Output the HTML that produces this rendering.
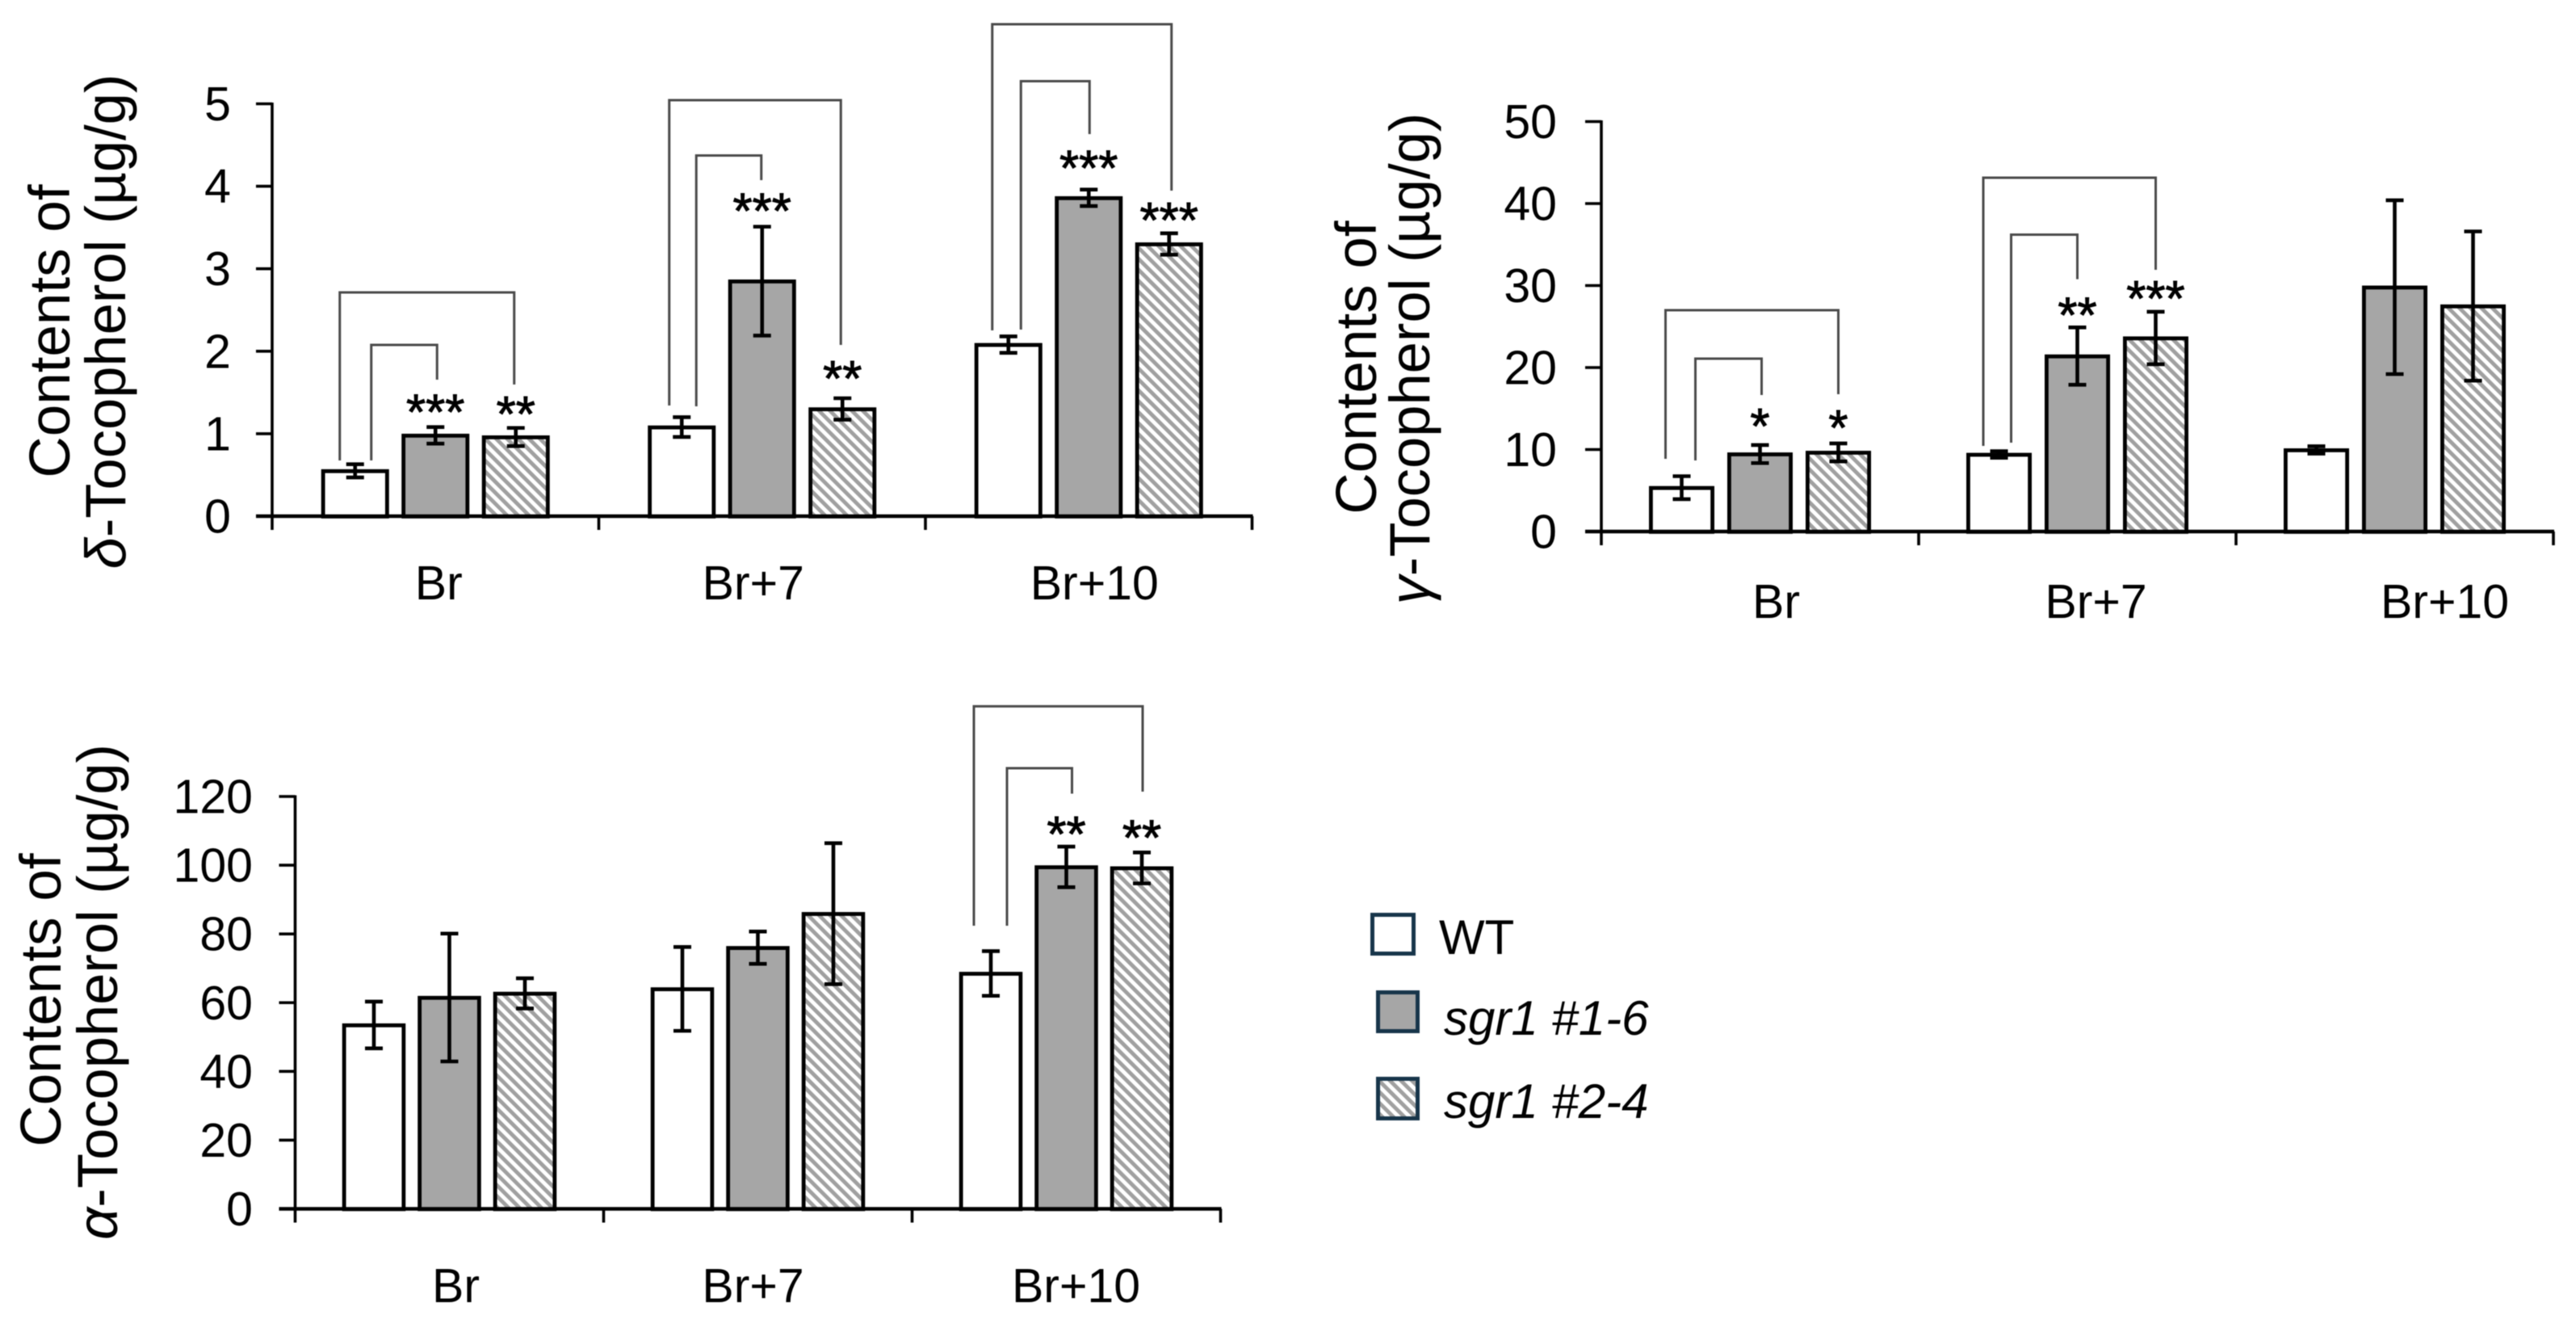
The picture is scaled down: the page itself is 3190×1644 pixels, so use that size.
<!DOCTYPE html>
<html lang="en">
<head>
<meta charset="utf-8">
<title>Tocopherol contents</title>
<style>
  html, body { margin: 0; padding: 0; background: #fff; }
  body { width: 3190px; height: 1644px; overflow: hidden; }
  svg { display: block; font-family: "Liberation Sans", Arial, sans-serif; filter: blur(0.6px); }
</style>
</head>
<body>
<svg id="figure" width="3190" height="1644" viewBox="0 0 3190 1644" xmlns="http://www.w3.org/2000/svg">
  <defs>
    <pattern id="hatch" patternUnits="userSpaceOnUse" width="9.6" height="9.6" patternTransform="rotate(-45)">
      <rect width="9.6" height="9.6" fill="#fff"/>
      <rect width="4.8" height="9.6" fill="#a0a0a0"/>
    </pattern>
  </defs>
  <rect width="3190" height="1644" fill="#fff"/>
  <g id="charts"></g>
  <g id="legend">
    <g>
      <rect x="1699.5" y="1132.5" width="51" height="48" fill="#fff" stroke="#17354a" stroke-width="5"/>
      <text x="1782" y="1181" font-size="60" fill="#000">WT</text>
    </g>
    <g>
      <rect x="1706.5" y="1228.5" width="49" height="48" fill="#a6a6a6" stroke="#17354a" stroke-width="5"/>
      <text x="1788" y="1281" font-size="60" font-style="italic" fill="#000">sgr1 #1-6</text>
    </g>
    <g>
      <rect x="1706.5" y="1335.5" width="49" height="49" fill="url(#hatch)" stroke="#17354a" stroke-width="5"/>
      <text x="1788" y="1384" font-size="60" font-style="italic" fill="#000">sgr1 #2-4</text>
    </g>
  </g>
</svg>
<script>
// ---------- shared data ----------
const categories = ['Br', 'Br+7', 'Br+10'];
const seriesKeys = ['wt', 'sgr1-1-6', 'sgr1-2-4'];

// ---------- delta-tocopherol ----------
const deltaTicks = ['0', '1', '2', '3', '4', '5'];
const deltaWT = [0.55, 1.08, 2.08];
const deltaLine16 = [0.98, 2.85, 3.86];
const deltaLine24 = [0.96, 1.30, 3.30];
const deltaErrWT = [0.08, 0.12, 0.10];
const deltaErrLine16 = [0.10, 0.66, 0.10];
const deltaErrLine24 = [0.11, 0.13, 0.13];
const deltaStarsLine16 = ['***', '***', '***'];
const deltaStarsLine24 = ['**', '**', '***'];

// ---------- gamma-tocopherol ----------
const gammaTicks = ['0', '10', '20', '30', '40', '50'];
const gammaWT = [5.35, 9.4, 9.95];
const gammaLine16 = [9.45, 21.4, 29.8];
const gammaLine24 = [9.65, 23.6, 27.5];
const gammaErrWT = [1.4, 0.4, 0.45];
const gammaErrLine16 = [1.1, 3.5, 10.6];
const gammaErrLine24 = [1.1, 3.2, 9.1];
const gammaStarsLine16 = ['*', '**', ''];
const gammaStarsLine24 = ['*', '***', ''];

// ---------- alpha-tocopherol ----------
const alphaTicks = ['0', '20', '40', '60', '80', '100', '120'];
const alphaWT = [53.5, 64, 68.5];
const alphaLine16 = [61.5, 76, 99.5];
const alphaLine24 = [62.7, 85.9, 99.2];
const alphaErrWT = [6.8, 12.2, 6.5];
const alphaErrLine16 = [18.6, 4.7, 5.9];
const alphaErrLine24 = [4.4, 20.5, 4.5];
const alphaStarsLine16 = ['', '', '**'];
const alphaStarsLine24 = ['', '', '**'];

const NS = 'http://www.w3.org/2000/svg';
const root = document.getElementById('charts');

function make(tag, parent, attrs) {
  const el = document.createElementNS(NS, tag);
  for (const k in attrs) el.setAttribute(k, attrs[k]);
  parent.appendChild(el);
  return el;
}

function drawChart(cfg) {
  const chart = make('g', root, {});
  
  

  const maxVal = Number(cfg.ticks[cfg.ticks.length - 1]);
  const yScale = v => cfg.y0 - (v / maxVal) * (cfg.y0 - cfg.yTop);
  const groupCenter = g => cfg.axisX + cfg.groupW * (g + 0.5);
  const barCenter = (g, s) => groupCenter(g) + (s - 1) * cfg.pitch;
  const fills = ['#fff', '#a6a6a6', 'url(#hatch)'];

  // bars
  cfg.series.forEach((vals, s) => {
    vals.forEach((v, g) => {
      const sw = 4.8;
      const rect = make('rect', chart, {
        x: barCenter(g, s) - cfg.barW / 2 + sw / 2,
        y: yScale(v) + sw / 2 - 2,
        width: cfg.barW - sw,
        height: cfg.y0 - yScale(v),
        fill: fills[s], stroke: '#000', 'stroke-width': sw
      });
      
      
    });
  });

  // error bars
  cfg.errors.forEach((errs, s) => {
    errs.forEach((e, g) => {
      const cx = barCenter(g, s);
      const hi = yScale(cfg.series[s][g] + e);
      const lo = yScale(cfg.series[s][g] - e);
      const eb = make('path', chart, {
        d: 'M' + cx + ' ' + hi + 'V' + lo +
           'M' + (cx - 11) + ' ' + hi + 'H' + (cx + 11) +
           'M' + (cx - 11) + ' ' + lo + 'H' + (cx + 11),
        fill: 'none', stroke: '#000', 'stroke-width': 4.6
      });
      
      

      // significance stars
      const label = s > 0 ? cfg.stars[s - 1][g] : '';
      if (label) {
        const gap = cfg.starGap[s - 1][g];
        const fs = 62;
        const st = make('text', chart, {
          x: cx, y: hi - gap + fs * 0.5,
          'font-size': fs, 'text-anchor': 'middle', fill: '#000',
          stroke: '#000', 'stroke-width': 1
        });
        st.textContent = label;
        
        
      }
    });
  });

  // comparison brackets
  cfg.brackets.forEach((b, i) => {
    const left = barCenter(b.group, 0) + b.leftDx;
    const right = barCenter(b.group, b.target) + b.rightDx;
    const br = make('path', chart, {
      d: 'M' + left + ' ' + b.leftEnd + 'V' + b.top + 'H' + right + 'V' + b.rightEnd,
      fill: 'none', stroke: '#4a4a4a', 'stroke-width': 3
    });
    
    
  });

  // y axis
  const yAxis = make('line', chart, {
    x1: cfg.axisX, x2: cfg.axisX, y1: cfg.yTop - 1.5, y2: cfg.y0 + 17,
    stroke: '#000', 'stroke-width': 3.6
  });
  
  

  cfg.ticks.forEach(t => {
    const y = yScale(Number(t));
    const tick = make('line', chart, {
      x1: cfg.axisX - 20, x2: cfg.axisX, y1: y, y2: y, stroke: '#000', 'stroke-width': 3.6
    });
    
    
    const lab = make('text', chart, {
      x: cfg.tickLabelX, y: y + 20.5, 'font-size': 59, 'text-anchor': 'end', fill: '#000'
    });
    lab.textContent = t;
    
    
  });

  // x axis
  const xAxis = make('line', chart, {
    x1: cfg.axisX - 20, x2: cfg.axisX + cfg.groupW * categories.length + 1,
    y1: cfg.y0, y2: cfg.y0, stroke: '#000', 'stroke-width': 4.6
  });
  
  

  categories.forEach((c, g) => {
    const x = cfg.axisX + cfg.groupW * (g + 1);
    const tick = make('line', chart, {
      x1: x, x2: x, y1: cfg.y0, y2: cfg.y0 + 17, stroke: '#000', 'stroke-width': 3.6
    });
    
    
    const lab = make('text', chart, {
      x: groupCenter(g) + cfg.catDx[g], y: cfg.catBaseline,
      'font-size': 59, 'text-anchor': 'middle', fill: '#000'
    });
    lab.textContent = c;
    
    
  });

  // y title (two rotated lines)
  const t1 = make('text', chart, {
    transform: 'translate(' + cfg.title1X + ' ' + cfg.title1Y + ') rotate(-90)',
    'font-size': 71, 'text-anchor': 'middle', fill: '#000'
  });
  t1.textContent = 'Contents of';
  
  

  const t2 = make('text', chart, {
    transform: 'translate(' + cfg.title2X + ' ' + cfg.title2Y + ') rotate(-90)',
    'font-size': 70.5, 'text-anchor': 'middle', fill: '#000'
  });
  const sym = make('tspan', t2, { 'font-style': 'italic' });
  sym.textContent = cfg.symbol;
  const rest = make('tspan', t2, {});
  rest.textContent = '-Tocopherol (\u00b5g/g)';
  
  
}

drawChart({
  name: 'delta-tocopherol', symbol: '\u03b4', ticks: deltaTicks,
  series: [deltaWT, deltaLine16, deltaLine24],
  errors: [deltaErrWT, deltaErrLine16, deltaErrLine24],
  stars: [deltaStarsLine16, deltaStarsLine24],
  starGap: [[28, 29, 36], [27, 34, 26]],
  axisX: 337, y0: 639, yTop: 128.5, groupW: 404.5, pitch: 99.5, barW: 84,
  tickLabelX: 286, catDx: [4, -11, 7], catBaseline: 742,
  title1X: 86, title1Y: 410, title2X: 155, title2Y: 398,
  brackets: [
    { group: 0, target: 2, top: 362, leftEnd: 570, rightEnd: 476, leftDx: -19, rightDx: -2 },
    { group: 0, target: 1, top: 427, leftEnd: 570, rightEnd: 470, leftDx: 20, rightDx: 2 },
    { group: 1, target: 2, top: 124, leftEnd: 502, rightEnd: 427, leftDx: -15.5, rightDx: -2 },
    { group: 1, target: 1, top: 192.5, leftEnd: 503, rightEnd: 223, leftDx: 18, rightDx: -1 },
    { group: 2, target: 2, top: 30, leftEnd: 409, rightEnd: 236, leftDx: -20, rightDx: 3 },
    { group: 2, target: 1, top: 100.5, leftEnd: 408, rightEnd: 166, leftDx: 15.5, rightDx: 1 }
  ]
});

drawChart({
  name: 'gamma-tocopherol', symbol: '\u03b3', ticks: gammaTicks,
  series: [gammaWT, gammaLine16, gammaLine24],
  errors: [gammaErrWT, gammaErrLine16, gammaErrLine24],
  stars: [gammaStarsLine16, gammaStarsLine24],
  starGap: [[33, 25, 0], [29, 26, 0]],
  axisX: 1983, y0: 658, yTop: 150.5, groupW: 393, pitch: 97, barW: 81,
  tickLabelX: 1928, catDx: [20, 23, 62], catBaseline: 765,
  title1X: 1704, title1Y: 455, title2X: 1770, title2Y: 444,
  brackets: [
    { group: 0, target: 2, top: 384, leftEnd: 568, rightEnd: 488, leftDx: -20, rightDx: 0 },
    { group: 0, target: 1, top: 444, leftEnd: 570, rightEnd: 489, leftDx: 17, rightDx: 2 },
    { group: 1, target: 2, top: 220, leftEnd: 552, rightEnd: 334, leftDx: -19.5, rightDx: 0 },
    { group: 1, target: 1, top: 290.5, leftEnd: 548, rightEnd: 345.6, leftDx: 15, rightDx: 0 }
  ]
});

drawChart({
  name: 'alpha-tocopherol', symbol: '\u03b1', ticks: alphaTicks,
  series: [alphaWT, alphaLine16, alphaLine24],
  errors: [alphaErrWT, alphaErrLine16, alphaErrLine24],
  stars: [alphaStarsLine16, alphaStarsLine24],
  starGap: [[0, 0, 25], [0, 0, 28]],
  axisX: 365.5, y0: 1496.5, yTop: 986, groupW: 382, pitch: 93.5, barW: 78.5,
  tickLabelX: 313, catDx: [8, -6, 12], catBaseline: 1612,
  title1X: 75, title1Y: 1238, title2X: 145, title2Y: 1228,
  brackets: [
    { group: 2, target: 2, top: 874.4, leftEnd: 1146, rightEnd: 980, leftDx: -21, rightDx: 1 },
    { group: 2, target: 1, top: 951, leftEnd: 1146, rightEnd: 982.5, leftDx: 20, rightDx: 7 }
  ]
});
</script>
</body>
</html>
